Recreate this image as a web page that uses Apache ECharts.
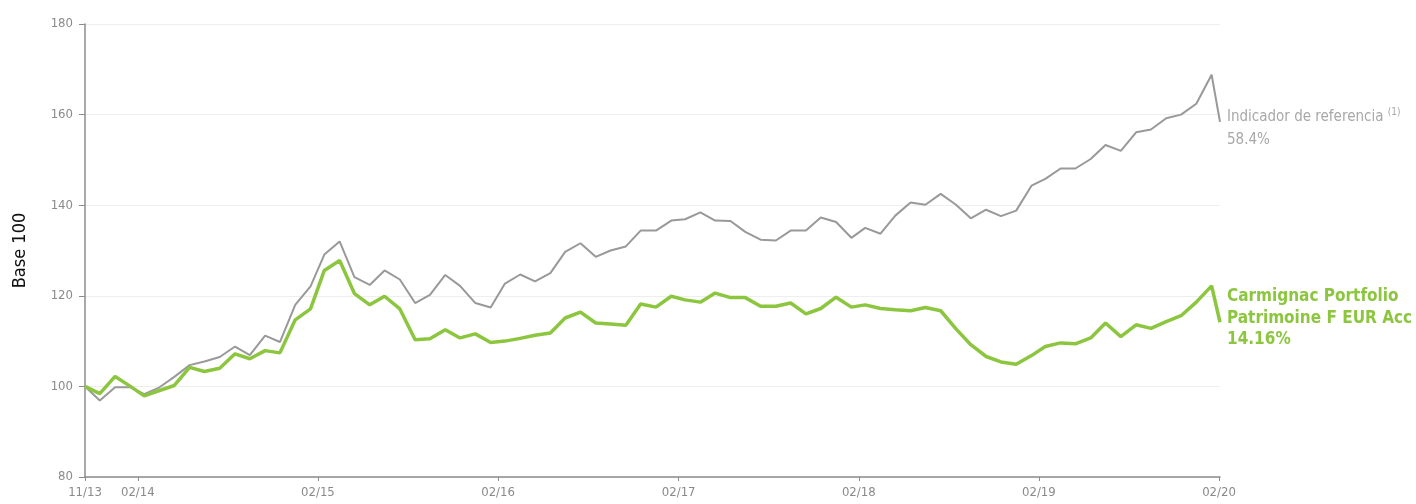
<!DOCTYPE html>
<html>
<head>
<meta charset="utf-8">
<script src="https://cdn.jsdelivr.net/npm/echarts@6/dist/echarts.min.js"></script>
<style>
html,body{margin:0;padding:0;background:#fff;}
#c{width:1416px;height:504px;}
</style>
</head>
<body>
<div id="c"></div>
<script>
// Month-end observation dates (Oct 2013 .. Jan 2020) plus final partial date
var monthEnds = [];
(function(){
  for (var y = 2013, m = 9; !(y === 2020 && m === 1); ) {
    var d = new Date(Date.UTC(y, m + 1, 0));
    monthEnds.push(d.toISOString().slice(0,10));
    m++; if (m > 11) { m = 0; y++; }
  }
})();
var dates = monthEnds.concat(['2020-02-17']);

var fundValues = [
  100.0, 98.4, 102.2, 100.0, 97.9, 99.1, 100.2, 104.2, 103.3, 104.0,
  107.2, 106.1, 107.9, 107.4, 114.7, 117.1, 125.6, 127.8, 120.5, 118.0,
  119.9, 117.1, 110.3, 110.5, 112.5, 110.7, 111.6, 109.7, 110.0, 110.6,
  111.3, 111.8, 115.1, 116.4, 114.0, 113.8, 113.5, 118.2, 117.5, 119.9,
  119.1, 118.6, 120.6, 119.6, 119.6, 117.7, 117.7, 118.4, 116.0, 117.2,
  119.7, 117.5, 118.0, 117.2, 116.9, 116.7, 117.4, 116.7, 112.7, 109.2,
  106.6, 105.4, 104.9, 106.8, 108.8, 109.6, 109.4, 110.7, 114.0, 111.0,
  113.6, 112.8, 114.3, 115.6, 118.6, 122.2, 114.16
];
var benchValues = [
  100.0, 96.9, 99.8, 99.8, 98.3, 99.8, 102.1, 104.7, 105.5, 106.5,
  108.8, 106.9, 111.2, 109.8, 118.0, 122.1, 129.1, 132.0, 124.1, 122.4,
  125.6, 123.6, 118.4, 120.2, 124.6, 122.2, 118.4, 117.4, 122.7, 124.7,
  123.2, 125.0, 129.7, 131.6, 128.6, 130.0, 130.9, 134.4, 134.4, 136.6,
  136.9, 138.4, 136.6, 136.5, 134.1, 132.4, 132.2, 134.4, 134.4, 137.3,
  136.3, 132.8, 135.0, 133.7, 137.7, 140.6, 140.1, 142.5, 140.1, 137.1,
  139.0, 137.6, 138.8, 144.3, 145.8, 148.1, 148.1, 150.2, 153.3, 152.0,
  156.1, 156.7, 159.2, 160.0, 162.4, 168.8, 158.4
];

var tickDates = ['2013-10-31','2014-02-15','2015-02-15','2016-02-15','2017-02-15','2018-02-15','2019-02-15','2020-02-15'];
var tickLabels = ['11/13','02/14','02/15','02/16','02/17','02/18','02/19','02/20'];

var fundName = 'Carmignac Portfolio\nPatrimoine F EUR Acc';
var fundPerf = '14.16%';
var benchName = 'Indicador de referencia';
var benchPerf = '58.4%';

var FONT = "'Liberation Sans Narrow','DejaVu Sans Condensed','Roboto Condensed','Liberation Sans',sans-serif";
function ts(s){ return Date.parse(s + 'T00:00:00Z'); }
var tickTs = tickDates.map(ts);

function pairs(vals){
  return vals.map(function(v, i){ return [ts(dates[i]), v]; });
}

var chart = echarts.init(document.getElementById('c'), null, {renderer:'canvas'});
chart.setOption({
  animation: false,
  backgroundColor: '#ffffff',
  textStyle: { fontFamily: FONT },
  grid: { left: 85, right: 196, top: 24, bottom: 27, containLabel: false, outerBoundsMode: 'none' },
  xAxis: {
    type: 'value',
    min: ts(dates[0]),
    max: ts(dates[dates.length - 1]),
    axisLine: { show: true, lineStyle: { color: '#8c8c8c', width: 1.5 } },
    axisTick: { show: true, length: 4, lineStyle: { color: '#8c8c8c' }, customValues: tickTs },
    axisLabel: {
      customValues: tickTs,
      color: '#8a8a8a', fontSize: 13, fontFamily: FONT, margin: 9,
      showMinLabel: true, showMaxLabel: true,
      formatter: function(v){
        var best = 0, bd = Infinity;
        for (var i = 0; i < tickTs.length; i++) { var d = Math.abs(tickTs[i] - v); if (d < bd) { bd = d; best = i; } }
        return tickLabels[best];
      }
    },
    splitLine: { show: false }
  },
  yAxis: {
    type: 'value',
    min: 80, max: 180, interval: 20,
    name: 'Base 100',
    nameLocation: 'middle',
    nameRotate: 90,
    nameGap: 56,
    nameTextStyle: { color: '#111', fontSize: 18, fontFamily: FONT },
    axisLine: { show: true, lineStyle: { color: '#8c8c8c', width: 1.5 } },
    axisTick: { show: true, length: 6, lineStyle: { color: '#8c8c8c' } },
    axisLabel: { color: '#8a8a8a', fontSize: 13, fontFamily: FONT, margin: 12 },
    splitLine: { show: true, lineStyle: { color: '#eeeeee', width: 1 } }
  },
  series: [
    {
      name: benchName,
      type: 'line',
      data: pairs(benchValues),
      showSymbol: false,
      symbol: 'none',
      clip: false,
      z: 2,
      lineStyle: { color: '#999999', width: 2 },
      endLabel: {
        show: true,
        distance: 7,
        offset: [0, 7],
        formatter: function(){ return '{a|' + benchName + ' }{s|(1)}\n{a|' + benchPerf + '}'; },
        rich: {
          a: { color: '#a8a8a8', fontSize: 15, fontFamily: FONT, lineHeight: 23 },
          s: { color: '#a8a8a8', fontSize: 10, fontFamily: FONT, lineHeight: 23, padding: [0,0,9,0] }
        }
      }
    },
    {
      name: fundName,
      type: 'line',
      data: pairs(fundValues),
      showSymbol: false,
      symbol: 'none',
      clip: false,
      z: 3,
      lineStyle: { color: '#8cc63f', width: 3.5 },
      endLabel: {
        show: true,
        distance: 7,
        offset: [0, -4],
        formatter: function(){ return fundName + '\n' + fundPerf; },
        color: '#8cc63f', fontSize: 17, fontWeight: 'bold', fontFamily: FONT, lineHeight: 21.5
      }
    }
  ]
});
</script>
</body>
</html>
